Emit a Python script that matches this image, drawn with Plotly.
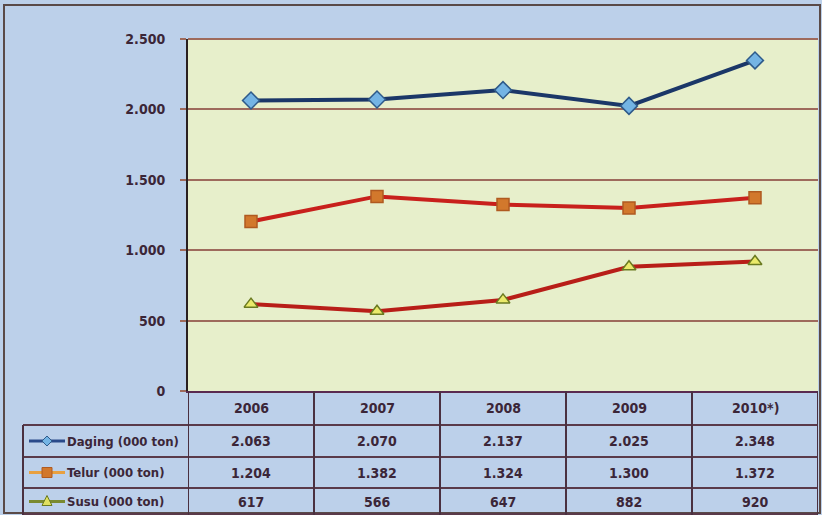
import plotly.graph_objects as go

# data (000 ton)
years = ["2006", "2007", "2008", "2009", "2010*)"]
daging = [2063, 2070, 2137, 2025, 2348]
telur = [1204, 1382, 1324, 1300, 1372]
susu = [617, 566, 647, 882, 920]
names = ["Daging (000 ton)", "Telur (000 ton)", "Susu (000 ton)"]

W, H = 822, 515
L, R, T, B = 188, 4, 39, 124
pw, ph = W - L - R, H - T - B

def px_x(x):
    return (x - L) / pw

def px_y(y):
    return (H - B - y) / ph

FONT = "DejaVu Sans Condensed, Liberation Sans Narrow, Arial Narrow, Arial"
TXT = "#3b2638"
GRID = "#9e6a5c"
BG = "#bcd0ea"

fig = go.Figure()

fig.add_trace(go.Scatter(
    x=years, y=daging, name=names[0], mode="lines+markers",
    line=dict(color="#1b3768", width=4),
    marker=dict(symbol="diamond", size=13, color="#74b4e4",
                line=dict(color="#2e5a8a", width=1.5))))
fig.add_trace(go.Scatter(
    x=years, y=telur, name=names[1], mode="lines+markers",
    line=dict(color="#c8201c", width=4),
    marker=dict(symbol="square", size=12, color="#d2782c",
                line=dict(color="#b05a20", width=1.5))))
fig.add_trace(go.Scatter(
    x=years, y=susu, name=names[2], mode="lines+markers",
    line=dict(color="#b81e18", width=4),
    marker=dict(symbol="triangle-up", size=12, color="#eaea6a",
                line=dict(color="#6a7a20", width=1.5))))

shapes = []
annotations = []

# outer frame
shapes.append(dict(type="rect", xref="paper", yref="paper",
                   x0=px_x(4), x1=px_x(820), y0=px_y(513), y1=px_y(5),
                   line=dict(color="#5a4a48", width=2)))
# top edge of plot area
shapes.append(dict(type="line", xref="paper", yref="paper",
                   x0=0, x1=1, y0=1, y1=1, line=dict(color=GRID, width=2)))

# table rows (pixel bounds)
header = (391, 425)
rows = [(425, 457), (457, 488), (488, 515)]

for yb in [425, 457, 488, 514]:
    shapes.append(dict(type="line", xref="paper", yref="paper",
                       x0=px_x(23), x1=px_x(818), y0=px_y(yb), y1=px_y(yb),
                       line=dict(color="#5a3a4a", width=2)))
for i in range(len(years) + 1):
    shapes.append(dict(type="line", xref="x", yref="paper",
                       x0=i - 0.5, x1=i - 0.5, y0=px_y(515), y1=px_y(391),
                       line=dict(color="#4a3040", width=2)))
shapes.append(dict(type="line", xref="paper", yref="paper",
                   x0=px_x(23), x1=px_x(23), y0=px_y(515), y1=px_y(425),
                   line=dict(color="#4a3040", width=2)))

def cell_text(x, y, s, xref="x", xanchor="center", size=14):
    return dict(x=x, y=y, xref=xref, yref="paper", xanchor=xanchor,
                yanchor="middle", text="<b>%s</b>" % s, showarrow=False,
                font=dict(family=FONT, size=size, color=TXT))

for i, yr in enumerate(years):
    annotations.append(cell_text(i, px_y(sum(header) / 2), yr))

def key_marker(kind, cx, cy, color, edge):
    s = 5
    if kind == "diamond":
        pts = [(cx, cy - s), (cx + s, cy), (cx, cy + s), (cx - s, cy)]
    elif kind == "square":
        pts = [(cx - s, cy - s), (cx + s, cy - s), (cx + s, cy + s), (cx - s, cy + s)]
    else:
        pts = [(cx, cy - s - 1), (cx + s, cy + s - 1), (cx - s, cy + s - 1)]
    path = "M " + " L ".join("%f,%f" % (px_x(a), px_y(b)) for a, b in pts) + " Z"
    return dict(type="path", xref="paper", yref="paper", path=path,
                fillcolor=color, line=dict(color=edge, width=1))

series = [daging, telur, susu]
key_line = ["#2a4a8a", "#e8a040", "#7a8a30"]
key_mark = [("diamond", "#74b4e4", "#2e5a8a"),
            ("square", "#d2782c", "#b05a20"),
            ("triangle", "#e0e060", "#6a7a20")]
for r, (vals, nm) in enumerate(zip(series, names)):
    y0, y1 = rows[r]
    cy = (y0 + y1) / 2
    ym = px_y(cy)
    for i, v in enumerate(vals):
        annotations.append(cell_text(i, ym, f"{v:,}".replace(",", ".")))
    annotations.append(cell_text(px_x(65), ym, nm, xref="paper", xanchor="left", size=13))
    shapes.append(dict(type="line", xref="paper", yref="paper",
                       x0=px_x(29), x1=px_x(65), y0=ym, y1=ym,
                       line=dict(color=key_line[r], width=3)))
    shapes.append(key_marker(key_mark[r][0], 47, cy, key_mark[r][1], key_mark[r][2]))

fig.update_layout(
    width=W, height=H,
    margin=dict(l=L, r=R, t=T, b=B, pad=0),
    paper_bgcolor=BG,
    plot_bgcolor="#e7efcb",
    showlegend=False,
    separators=",.",
    shapes=shapes,
    annotations=annotations,
)
fig.update_xaxes(type="category", range=[-0.5, 4.5], showticklabels=False,
                 showgrid=False, showline=True, linecolor="#5a2a50", linewidth=2,
                 zeroline=False)
fig.update_yaxes(range=[0, 2500], tickvals=[0, 500, 1000, 1500, 2000, 2500],
                 tickformat=",d", showgrid=True, gridcolor=GRID, gridwidth=2,
                 showline=True, linecolor="#2a2020", linewidth=2,
                 ticks="outside", ticklen=6, tickcolor=GRID, tickwidth=2,
                 ticklabelstandoff=12, zeroline=False,
                 tickfont=dict(family=FONT, size=14, color=TXT, weight="bold"))

fig.write_html("out.html", config={"displayModeBar": False},
               post_script="document.body.style.margin='0';")
